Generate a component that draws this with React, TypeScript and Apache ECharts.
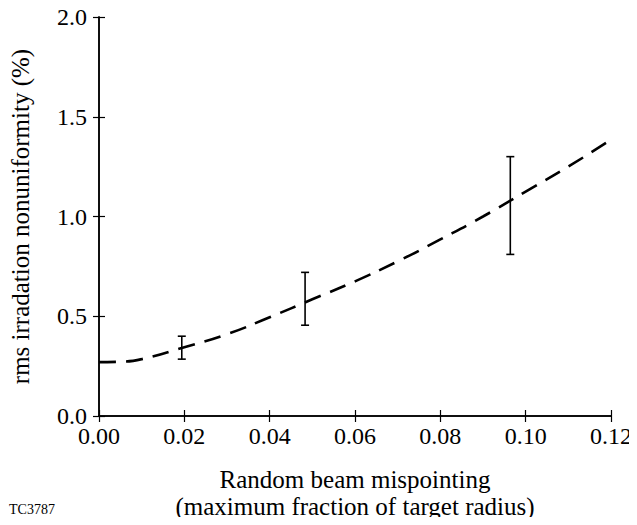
import React, { useEffect, useRef } from "react";
import * as echarts from "echarts";

const curveX = [0, 0.005, 0.01, 0.02, 0.03, 0.04, 0.05, 0.06, 0.07, 0.08, 0.09, 0.1, 0.11, 0.12];
const curveY = [0.27, 0.272, 0.285, 0.345, 0.41, 0.495, 0.585, 0.675, 0.775, 0.885, 1.0, 1.125, 1.25, 1.385];

const errX = [0.0194, 0.0483, 0.0964];
const errLow = [0.285, 0.455, 0.81];
const errHigh = [0.4, 0.72, 1.3];

const xTicks = [0, 0.02, 0.04, 0.06, 0.08, 0.1, 0.12];
const yTicks = [0, 0.5, 1.0, 1.5, 2.0];

const FONT = "Liberation Serif";

export default function App() {
  const ref = useRef<HTMLDivElement>(null);
  useEffect(() => {
    if (!ref.current) return;
    const chart = echarts.init(ref.current, undefined, { renderer: "svg" });
    const axisLine = { show: true, lineStyle: { color: "#000", width: 1.5 } };
    const tick = { show: true, inside: true, length: 6, lineStyle: { color: "#000", width: 1.2 } };
    const option: any = {
      animation: false,
      backgroundColor: "#fff",
      grid: { left: 97, right: 26, top: 17, bottom: 107 },
      xAxis: [
        {
          type: "value",
          min: xTicks[0],
          max: xTicks[xTicks.length - 1],
          interval: 0.02,
          axisLine,
          axisTick: tick,
          splitLine: { show: false },
          axisLabel: {
            color: "#000",
            fontFamily: FONT,
            fontSize: 24,
            margin: 8,
            formatter: (v: number) => v.toFixed(2),
          },
          name: "Random beam mispointing\n(maximum fraction of target radius)",
          nameLocation: "middle",
          nameGap: 50,
          nameTextStyle: { color: "#000", fontFamily: FONT, fontSize: 25, lineHeight: 27, verticalAlign: "top" },
        },
        {
          type: "value",
          position: "top",
          min: xTicks[0],
          max: xTicks[xTicks.length - 1],
          interval: 0.02,
          axisLine,
          axisTick: tick,
          axisLabel: { show: false },
          splitLine: { show: false },
        },
      ],
      yAxis: [
        {
          type: "value",
          min: yTicks[0],
          max: yTicks[yTicks.length - 1],
          interval: 0.5,
          axisLine,
          axisTick: tick,
          splitLine: { show: false },
          axisLabel: {
            color: "#000",
            fontFamily: FONT,
            fontSize: 24,
            margin: 12,
            formatter: (v: number) => v.toFixed(1),
          },
          name: "rms irradation nonuniformity (%)",
          nameLocation: "middle",
          nameRotate: 90,
          nameGap: 66,
          nameTextStyle: { color: "#000", fontFamily: FONT, fontSize: 25 },
        },
        {
          type: "value",
          position: "right",
          min: yTicks[0],
          max: yTicks[yTicks.length - 1],
          interval: 0.5,
          axisLine,
          axisTick: tick,
          axisLabel: { show: false },
          splitLine: { show: false },
        },
      ],
      series: [
        {
          type: "line",
          data: curveX.map((x, i) => [x, curveY[i]]),
          smooth: true,
          showSymbol: false,
          lineStyle: { color: "#000", width: 2.6, type: [17, 10] },
        },
        {
          type: "custom",
          data: errX.map((x, i) => [x, errLow[i], errHigh[i]]),
          renderItem: (params: any, api: any) => {
            const lo = api.coord([api.value(0), api.value(1)]);
            const hi = api.coord([api.value(0), api.value(2)]);
            const w = 4;
            const style = { stroke: "#000", lineWidth: 1.6 };
            return {
              type: "group",
              children: [
                { type: "line", shape: { x1: lo[0], y1: lo[1], x2: hi[0], y2: hi[1] }, style },
                { type: "line", shape: { x1: lo[0] - w, y1: lo[1], x2: lo[0] + w, y2: lo[1] }, style },
                { type: "line", shape: { x1: hi[0] - w, y1: hi[1], x2: hi[0] + w, y2: hi[1] }, style },
              ],
            };
          },
        },
      ],
      graphic: [
        {
          type: "text",
          left: 9,
          top: 502,
          style: { text: "TC3787", fill: "#000", font: `14px '${FONT}'` },
        },
      ],
    };
    chart.setOption(option);
    return () => chart.dispose();
  }, []);
  return <div ref={ref} style={{ width: 637, height: 525, margin: -8 }} />;
}
